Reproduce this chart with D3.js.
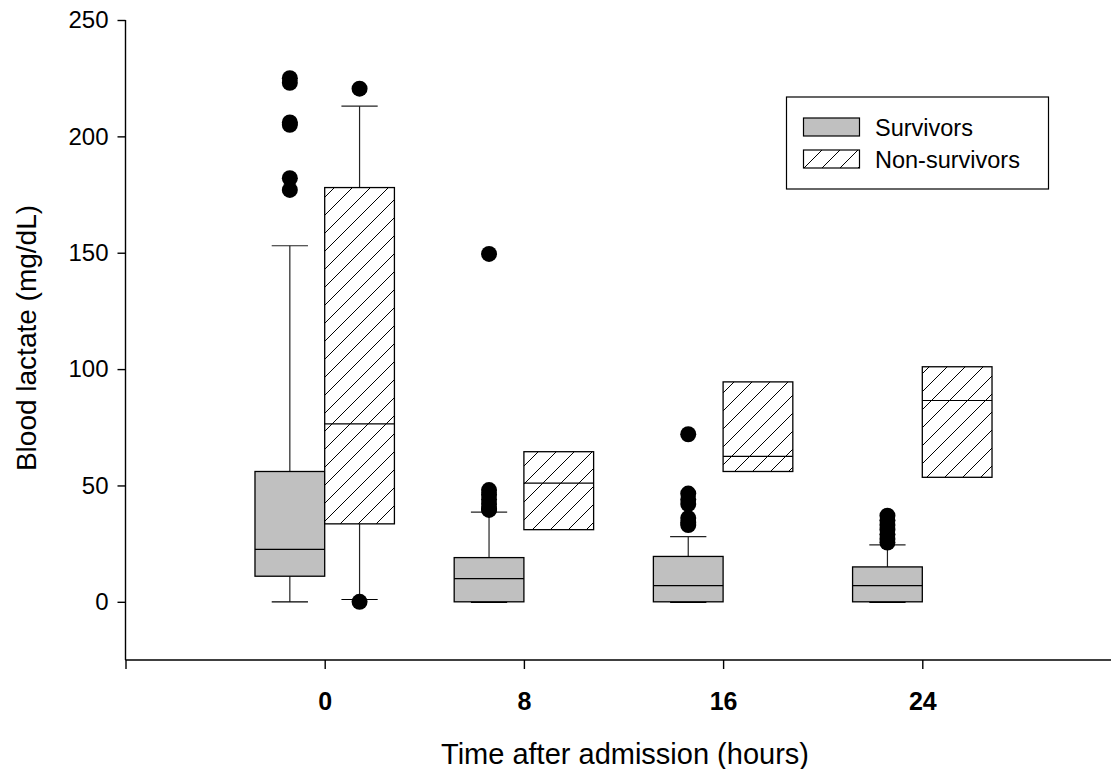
<!DOCTYPE html>
<html>
<head>
<meta charset="utf-8">
<script src="https://cdn.jsdelivr.net/npm/d3@7"></script>
<style>
  body { margin: 0; background: #fff; }
  svg { display: block; font-family: "Liberation Sans", Arial, sans-serif; }
</style>
</head>
<body>
<svg id="chart"></svg>
<script>
const times = [0, 8, 16, 24];
const groups = ["Survivors", "Non-survivors"];

// survivors, per time point
const survQ1 = [11, 0, 0, 0];
const survMedian = [22.5, 10, 7, 7];
const survQ3 = [56, 19, 19.5, 15];
const survLow = [0, 0, 0, 0];
const survHigh = [153, 38.5, 28, 24.5];
const survOutliers = [
  [225, 223, 206, 205, 182, 177],
  [149.5, 48, 46, 44, 42, 40, 39.5],
  [72, 46.5, 44, 42, 36, 34, 33],
  [37, 35, 33, 31, 29, 27, 25.5]
];

// non-survivors, per time point
const nonQ1 = [33.5, 31, 56, 53.5];
const nonMedian = [76.5, 51, 62.5, 86.5];
const nonQ3 = [178, 64.5, 94.5, 101];
const nonLow = [1, null, null, null];
const nonHigh = [213, null, null, null];
const nonOutliers = [[220.5, 0], [], [], []];

const yTicks = [0, 50, 100, 150, 200, 250];
const xTicks = [-8, 0, 8, 16, 24];

const width = 1111, height = 769;
const boxW = 2.8; // hours

const svg = d3.select("#chart")
    .attr("width", width)
    .attr("height", height)
    .attr("viewBox", [0, 0, width, height]);

const x = d3.scaleLinear().domain([-8, 32]).range([125.5, 1121.5]);
const y = d3.scaleLinear().domain([-25, 250]).range([660, 20]);

// hatch pattern
const defs = svg.append("defs");
const pat = defs.append("pattern")
    .attr("id", "hatch")
    .attr("patternUnits", "userSpaceOnUse")
    .attr("width", 18)
    .attr("height", 18);
pat.append("rect").attr("width", 18).attr("height", 18).attr("fill", "#fff");
pat.append("path")
    .attr("d", "M0,18 L18,0 M-4.5,4.5 L4.5,-4.5 M13.5,22.5 L22.5,13.5")
    .attr("stroke", "#000")
    .attr("stroke-width", 1);

const stats = [
  {q1: survQ1, med: survMedian, q3: survQ3, lo: survLow, hi: survHigh, out: survOutliers, off: -boxW, fill: "#c0c0c0"},
  {q1: nonQ1, med: nonMedian, q3: nonQ3, lo: nonLow, hi: nonHigh, out: nonOutliers, off: 0, fill: "url(#hatch)"}
];

const plot = svg.append("g");

stats.forEach(s => {
  times.forEach((t, i) => {
    const x0 = x(t + s.off), x1 = x(t + s.off + boxW);
    const cx = (x0 + x1) / 2, cap = (x1 - x0) * 0.26;
    const g = plot.append("g");

    // whiskers
    if (s.hi[i] != null) {
      g.append("line").attr("x1", cx).attr("x2", cx)
          .attr("y1", y(s.q3[i])).attr("y2", y(s.hi[i]))
          .attr("stroke", "#222").attr("stroke-width", 1.2);
      g.append("line").attr("x1", cx - cap).attr("x2", cx + cap)
          .attr("y1", y(s.hi[i])).attr("y2", y(s.hi[i]))
          .attr("stroke", "#222").attr("stroke-width", 1.2);
    }
    if (s.lo[i] != null) {
      g.append("line").attr("x1", cx).attr("x2", cx)
          .attr("y1", y(s.q1[i])).attr("y2", y(s.lo[i]))
          .attr("stroke", "#222").attr("stroke-width", 1.2);
      g.append("line").attr("x1", cx - cap).attr("x2", cx + cap)
          .attr("y1", y(s.lo[i])).attr("y2", y(s.lo[i]))
          .attr("stroke", "#000").attr("stroke-width", s.lo[i] === s.q1[i] ? 2.5 : 1.2);
    }

    // box
    g.append("rect")
        .attr("x", x0).attr("width", x1 - x0)
        .attr("y", y(s.q3[i])).attr("height", y(s.q1[i]) - y(s.q3[i]))
        .attr("fill", s.fill)
        .attr("stroke", "#000").attr("stroke-width", 1.3);
    g.append("line").attr("x1", x0).attr("x2", x1)
        .attr("y1", y(s.med[i])).attr("y2", y(s.med[i]))
        .attr("stroke", "#000").attr("stroke-width", 1.2);

    // outliers
    g.selectAll("circle").data(s.out[i]).join("circle")
        .attr("cx", cx).attr("cy", d => y(d)).attr("r", 8)
        .attr("fill", "#000");
  });
});

// axes
svg.append("g")
    .attr("transform", "translate(0,660)")
    .call(d3.axisBottom(x).tickValues(xTicks).tickSize(9).tickSizeOuter(0)
        .tickFormat(d => d < 0 ? "" : d))
    .call(g => g.select(".domain").attr("d", `M${x(-8)},0H${width}`).attr("stroke-width", 1.4))
    .call(g => g.selectAll(".tick line").attr("stroke-width", 1.4))
    .call(g => g.selectAll(".tick text")
        .attr("y", 0).attr("dy", null)
        .attr("transform", "translate(0,50)")
        .attr("font-size", 25).attr("font-weight", "bold")
        .attr("font-family", "'Liberation Sans', Arial, sans-serif")
        .attr("fill", "#000"));

svg.append("g")
    .attr("transform", `translate(${x(-8)},0)`)
    .call(d3.axisLeft(y).tickValues(yTicks).tickSize(8).tickSizeOuter(0).tickPadding(9))
    .call(g => g.select(".domain").attr("d", `M0,${y(250)}V660`).attr("stroke-width", 1.4))
    .call(g => g.selectAll(".tick line").attr("stroke-width", 1.4))
    .call(g => g.selectAll(".tick text")
        .attr("font-size", 24)
        .attr("font-family", "'Liberation Sans', Arial, sans-serif")
        .attr("fill", "#000"));

// axis titles
svg.append("text")
    .attr("x", 625).attr("y", 764)
    .attr("text-anchor", "middle")
    .attr("font-size", 29)
    .text("Time after admission (hours)");

svg.append("text")
    .attr("transform", "translate(36,338) rotate(-90)")
    .attr("text-anchor", "middle")
    .attr("font-size", 28)
    .text("Blood lactate (mg/dL)");

// legend
const legend = svg.append("g");
legend.append("rect")
    .attr("x", 786.5).attr("y", 97).attr("width", 262).attr("height", 92)
    .attr("fill", "#fff").attr("stroke", "#000").attr("stroke-width", 1.2);
const swFill = ["#c0c0c0", "url(#hatch)"];
const swY = [118, 150];
groups.forEach((name, i) => {
  legend.append("rect")
      .attr("x", 803.5).attr("y", swY[i]).attr("width", 56).attr("height", 18)
      .attr("fill", swFill[i]).attr("stroke", "#000").attr("stroke-width", 1.2);
  legend.append("text")
      .attr("x", 875).attr("y", swY[i] + 18)
      .attr("font-size", 23.5)
      .text(name);
});
</script>
</body>
</html>
